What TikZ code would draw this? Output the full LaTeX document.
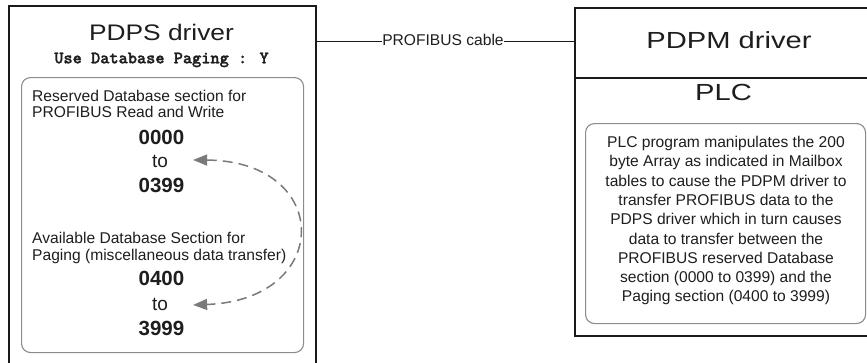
\documentclass[tikz,border=0pt]{standalone}
\usepackage{fontspec}
\setmainfont{Liberation Sans}
\newfontfamily\titleL[FakeStretch=1.17]{Liberation Sans}
\newfontfamily\titleR[FakeStretch=1.25]{Liberation Sans}
\newfontfamily\cour[BoldFeatures={FakeBold=1.5}]{Latin Modern Mono Light}
\usetikzlibrary{arrows.meta}
\definecolor{ink}{HTML}{1E1E1E}
\definecolor{frame}{HTML}{1A1A1A}
\definecolor{soft}{HTML}{8C8C8C}
\definecolor{arrowgray}{HTML}{7A7A7A}
\begin{document}
\begin{tikzpicture}[x=1pt,y=-1pt,
  outerbox/.style={draw=frame, line width=2pt, inner sep=0pt, anchor=north west},
  innerbox/.style={draw=soft, line width=1.1pt, rounded corners=9pt, inner sep=0pt, anchor=north west},
  body/.style={inner sep=0pt, text=ink, font=\fontsize{15.6}{16}\selectfont},
  numtxt/.style={inner sep=0pt, text=ink, anchor=base, font=\fontsize{20.5}{20}\selectfont\bfseries},
  totxt/.style={inner sep=0pt, text=ink, anchor=base, font=\fontsize{19}{19}\selectfont},
  titleleft/.style={inner sep=0pt, text=ink, anchor=base, font=\titleL\fontsize{22.5}{22}\selectfont},
  titleright/.style={inner sep=0pt, text=ink, anchor=base, font=\titleR\fontsize{23.3}{23}\selectfont},
  plcline/.style={body, anchor=base},
  pagearrow/.style={draw=arrowgray, line width=1.5pt, dash pattern=on 10pt off 6pt,
     {Triangle[length=14pt,width=11pt,fill=arrowgray]}-{Triangle[length=14pt,width=11pt,fill=arrowgray]}}
]
\path[use as bounding box, clip] (0,0) rectangle (867,362);
\fill[white] (0,0) rectangle (867,362);

% left driver box
\node[outerbox, minimum width=307pt, minimum height=370pt] (L) at (8,5) {};
\node[innerbox, minimum width=282pt, minimum height=275pt] (Li) at (21,77) {};
\node[titleleft] (ltitle) at (161.5,40.5) {PDPS driver};
\node[inner sep=0pt, anchor=base, text=ink, font=\cour\bfseries\fontsize{17.5}{17}\selectfont] (paging) at (161.5,63.3) {Use Database Paging : Y};

\node[body, anchor=base west] (res1) at (32,101) {Reserved Database section for};
\node[body, anchor=base west] (res2) at (32,117.5) {PROFIBUS Read and Write};
\node[numtxt] (n0000) at (161.5,144) {0000};
\node[totxt] (to1) at (160,167) {to};
\node[numtxt] (n0399) at (161.5,192) {0399};

\node[body, anchor=base west] (av1) at (32,243.5) {Available Database Section for};
\node[body, anchor=base west] (av2) at (32,260.5) {Paging (miscellaneous data transfer)};
\node[numtxt] (n0400) at (161.5,285.5) {0400};
\node[totxt] (to2) at (160,310) {to};
\node[numtxt] (n3999) at (161.5,335) {3999};

\draw[pagearrow] ([xshift=25pt,yshift=1pt]to1.east) .. controls (333,161) and (333,300) .. ([xshift=25pt,yshift=-1pt]to2.east);

% right driver box
\node[outerbox, minimum width=303pt, minimum height=70pt] (R1) at (574,7) {};
\node[outerbox, minimum width=303pt, minimum height=258pt] (R2) at (574,77) {};
\node[innerbox, minimum width=280pt, minimum height=200pt] (Ri) at (585,123) {};
\node[titleright] (rtitle) at (729,48.3) {PDPM driver};
\node[titleright] (plc) at (723.5,100) {PLC};

\node[plcline] (p1) at (726,147.5) {PLC program manipulates the 200};
\node[plcline] (p2) at (726,166.8) {byte Array as indicated in Mailbox};
\node[plcline] (p3) at (726,186.1) {tables to cause the PDPM driver to};
\node[plcline] (p4) at (726,205.4) {transfer PROFIBUS data to the};
\node[plcline] (p5) at (726,224.7) {PDPS driver which in turn causes};
\node[plcline] (p6) at (726,244.0) {data to transfer between the};
\node[plcline] (p7) at (726,263.3) {PROFIBUS reserved Database};
\node[plcline] (p8) at (726,282.6) {section (0000 to 0399) and the};
\node[plcline] (p9) at (726,301.9) {Paging section (0400 to 3999)};

% cable
\node[body, anchor=base] (cable) at (443,45) {PROFIBUS cable};
\draw[frame, line width=1.3pt] ([yshift=-2.3pt]cable.west) -- ([yshift=-2.3pt]cable.west -| L.east);
\draw[frame, line width=1.3pt] ([yshift=-2.3pt]cable.east) -- ([yshift=-2.3pt]cable.east -| R1.west);
\end{tikzpicture}
\end{document}
